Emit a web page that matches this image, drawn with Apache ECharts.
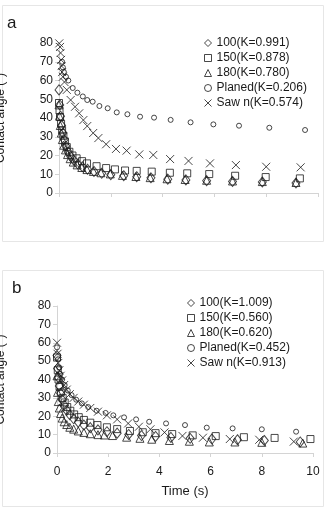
<!DOCTYPE html>
<html>
<head>
<meta charset="utf-8">
<script src="https://cdn.jsdelivr.net/npm/echarts@6/dist/echarts.min.js"></script>
<style>
  html, body { margin: 0; padding: 0; background: #fff; }
  #chart { width: 328px; height: 513px; }
</style>
</head>
<body>
<div id="chart"></div>
<script>
// panel a
const aNames = ["100(K=0.991)", "150(K=0.878)", "180(K=0.780)", "Planed(K=0.206)", "Saw n(K=0.574)"];
const aT100 = [0, .03, .06, .1, .15, .2, .27, .35, .45, .57, .72, .9, 1.1, 1.35, 1.65, 2.0, 2.5, 3.0, 3.55, 4.2, 4.9, 5.7, 6.7, 7.85, 9.15];
const aV100 = [55, 47, 41, 36, 32, 28.5, 25, 22, 19.5, 17.5, 15.5, 14, 12.7, 11.5, 10.5, 9.8, 9.2, 8.7, 8.1, 7.4, 7.0, 6.6, 6.2, 5.9, 5.3];
const aT150 = [0, .02, .04, .08, .12, .17, .23, .3, .4, .52, .68, .89, 1.08, 1.45, 1.82, 2.16, 2.55, 3.0, 3.58, 4.28, 4.95, 5.8, 6.8, 7.98, 9.3];
const aV150 = [48, 44, 40.5, 37, 33.5, 30.5, 27.5, 24.5, 22, 20, 18.5, 17, 15.8, 14.3, 13.3, 12.6, 12, 11.8, 11.4, 10.8, 10.5, 10.1, 9.2, 8.5, 7.8];
const aT180 = [0, .02, .05, .09, .13, .18, .25, .33, .43, .55, .7, .88, 1.08, 1.33, 1.62, 1.98, 2.45, 2.97, 3.52, 4.17, 4.87, 5.7, 6.7, 7.85, 9.15];
const aV180 = [47, 41, 36, 32, 28.5, 25.5, 23, 20.5, 18.3, 16.5, 15, 13.6, 12.5, 11.5, 10.8, 10.2, 9.4, 8.8, 8.2, 7.6, 7.2, 6.8, 6.4, 6.1, 5.6];
const aTPl = [.12, .15, .19, .27, .36, .53, .71, .92, 1.09, 1.3, 1.56, 1.88, 2.23, 2.64, 3.13, 3.67, 4.31, 5.08, 5.96, 6.95, 8.12, 9.5];
const aVPl = [70, 67, 64.5, 62, 60, 56, 53.5, 51.5, 49.6, 48.7, 46.4, 45.2, 43.0, 42.0, 40.7, 40.2, 39, 37.7, 36.6, 35.9, 34.8, 33.6];
const aTSw = [.01, .04, .06, .08, .1, .12, .15, .21, .3, .45, .62, .78, .94, 1.09, 1.32, 1.52, 1.82, 2.2, 2.61, 3.1, 3.64, 4.29, 5.0, 5.83, 6.83, 8.0, 9.33];
const aVSw = [79.8, 77.9, 74.7, 71, 67.7, 64.5, 62, 59.2, 55, 49.6, 46, 42.5, 38.9, 35.7, 32, 29.3, 26, 23.5, 22.6, 20.6, 20.3, 18.1, 17.1, 15.8, 14.9, 14, 13.7];

// panel b
const bNames = ["100(K=1.009)", "150(K=0.560)", "180(K=0.620)", "Planed(K=0.452)", "Saw n(K=0.913)"];
const bT100 = [0, .02, .05, .09, .14, .2, .28, .38, .5, .65, .83, 1.05, 1.3, 1.6, 1.95, 2.35, 2.8, 3.3, 3.85, 4.45, 5.2, 6.05, 7.05, 8.1, 9.5];
const bV100 = [53, 46, 41, 36.5, 32.5, 29, 26, 23.2, 20.8, 18.6, 16.8, 15.2, 13.8, 12.6, 11.6, 10.8, 10.1, 9.5, 9.0, 8.5, 8.0, 7.6, 7.2, 6.8, 6.0];
const bT150 = [0, .03, .06, .1, .15, .22, .3, .4, .52, .67, .85, 1.05, 1.3, 1.58, 1.95, 2.35, 2.85, 3.35, 3.85, 4.5, 5.3, 6.2, 7.3, 8.5, 9.9];
const bV150 = [52, 45, 40, 36, 33, 30, 27.5, 25, 23, 21, 19.5, 18, 16.5, 15.2, 14, 13, 12, 11.3, 10.8, 10.3, 9.6, 9.2, 8.6, 8.2, 7.6];
const bT180 = [0, .02, .05, .09, .14, .2, .28, .38, .5, .65, .83, 1.05, 1.3, 1.6, 1.85, 2.17, 2.72, 3.24, 3.7, 4.39, 5.17, 5.95, 6.95, 8.0, 9.6];
const bV180 = [42, 33, 28, 24.5, 21.5, 19, 17, 15.5, 14, 13, 12, 11.2, 10.5, 10, 9.8, 9.5, 8.6, 8.0, 7.5, 6.8, 6.4, 6.0, 6.0, 5.8, 5.4];
const bTPl = [0, .04, .08, .13, .2, .3, .42, .57, .75, .97, 1.22, 1.55, 1.9, 2.2, 2.62, 3.09, 3.6, 4.26, 5.0, 5.85, 6.86, 8.0, 9.34];
const bVPl = [57.5, 51, 46.5, 43, 40, 37, 34, 31.5, 29, 27, 25, 23, 21.8, 20.5, 19.4, 18.3, 17.0, 16.1, 15.2, 13.8, 13.4, 12.9, 11.6];
const bTSw = [0, .02, .05, .09, .14, .2, .28, .38, .5, .65, .83, 1.05, 1.3, 1.6, 1.95, 2.35, 2.78, 3.2, 3.65, 4.2, 4.9, 5.7, 6.75, 7.9, 9.25];
const bVSw = [60, 54, 49, 45, 42, 39.5, 37, 34.5, 32, 30, 28, 26.3, 24.5, 22.5, 20.5, 18.3, 16.1, 14.3, 12.9, 11.2, 9.3, 8.3, 7.6, 7.2, 6.2];

const yTicks = [0, 10, 20, 30, 40, 50, 60, 70, 80];
const xTicks = [0, 2, 4, 6, 8, 10];

const zip = (t, v) => t.map((x, i) => [x, v[i]]);
const font = "'Liberation Sans', Arial, sans-serif";
const ink = "#1a1a1a";

// marker per series: diamond, square, triangle, circle, cross
const crossPath = "path://M0,0L10,10M10,0L0,10";
const marks = [
  { symbol: "diamond", size: [8, 10], legendIcon: "diamond" },
  { symbol: "rect", size: 7, legendIcon: "rect" },
  { symbol: "triangle", size: 8, legendIcon: "triangle" },
  { symbol: "circle", size: 5, legendIcon: "circle" },
  { symbol: crossPath, size: 8, legendIcon: crossPath },
];

function mkSeries(names, data, idx) {
  return names.map((n, i) => ({
    name: n,
    type: "scatter",
    xAxisIndex: idx,
    yAxisIndex: idx,
    symbol: marks[i].symbol,
    symbolSize: marks[i].size,
    itemStyle: { color: "rgba(0,0,0,0)", borderColor: ink, borderWidth: 1 },
    emphasis: { disabled: true },
    data: data[i],
  }));
}

// the y title sits half outside the page, as in the source figure
function yAxis(idx, gap) {
  return {
    type: "value", gridIndex: idx, min: 0, max: 80, interval: 10,
    name: "Contact angle (°)", nameLocation: "middle", nameRotate: 90, nameGap: gap,
    nameTextStyle: { fontFamily: font, fontSize: 12, color: ink },
    axisLine: { show: true, lineStyle: { color: "#d4d4d4" } },
    axisTick: { show: true, length: 4, lineStyle: { color: "#d4d4d4" } },
    splitLine: { show: false },
    axisLabel: { fontFamily: font, fontSize: 12, color: ink, margin: 6,
      formatter: v => yTicks.includes(v) ? String(v) : "" },
  };
}

function xAxis(idx, showLabels) {
  return {
    type: "value", gridIndex: idx, min: 0, max: 10, interval: 2,
    name: showLabels ? "Time (s)" : "", nameLocation: "middle", nameGap: 32,
    nameTextStyle: { fontFamily: font, fontSize: 13, color: ink },
    axisLine: { show: true, onZero: false, lineStyle: { color: "#d4d4d4" } },
    axisTick: { show: true, length: 4, lineStyle: { color: "#d4d4d4" } },
    splitLine: { show: false },
    axisLabel: { show: showLabels, fontFamily: font, fontSize: 12, color: ink, margin: 13,
      formatter: v => xTicks.includes(v) ? String(v) : "" },
  };
}

function legend(names, left, top) {
  return {
    data: names.map((n, i) => ({
      name: n,
      icon: marks[i].legendIcon,
      itemStyle: { color: "rgba(0,0,0,0)", borderColor: ink, borderWidth: 1 },
    })),
    orient: "vertical", left: left, top: top, padding: 0,
    itemWidth: 7, itemHeight: 7, itemGap: 3,
    selectedMode: false,
    itemStyle: { color: "rgba(0,0,0,0)", borderColor: ink, borderWidth: 1 },
    textStyle: { fontFamily: font, fontSize: 12, color: ink },
  };
}

const chart = echarts.init(document.getElementById("chart"), null, { renderer: "canvas" });
chart.setOption({
  animation: false,
  backgroundColor: "#fff",
  graphic: [
    { type: "rect", shape: { x: 2.5, y: 5.5, width: 321, height: 236 }, style: { fill: "none", stroke: "#e6e6e6", lineWidth: 1 } },
    { type: "rect", shape: { x: 2.5, y: 270.5, width: 321, height: 236 }, style: { fill: "none", stroke: "#e6e6e6", lineWidth: 1 } },
    { type: "text", left: 7, top: 15, style: { text: "a", font: "17px " + font, fill: ink } },
    { type: "text", left: 12, top: 280, style: { text: "b", font: "17px " + font, fill: ink } },
  ],
  grid: [
    { left: 59, top: 43, width: 259, height: 150, containLabel: false, outerBoundsMode: "none" },
    { left: 57, top: 306, width: 256, height: 147, containLabel: false, outerBoundsMode: "none" },
  ],
  xAxis: [xAxis(0, false), xAxis(1, true)],
  yAxis: [yAxis(0, 52), yAxis(1, 50)],
  legend: [legend(aNames, 204, 37), legend(bNames, 187, 297)],
  series: [
    ...mkSeries(aNames, [zip(aT100, aV100), zip(aT150, aV150), zip(aT180, aV180), zip(aTPl, aVPl), zip(aTSw, aVSw)], 0),
    ...mkSeries(bNames, [zip(bT100, bV100), zip(bT150, bV150), zip(bT180, bV180), zip(bTPl, bVPl), zip(bTSw, bVSw)], 1),
  ],
});
</script>
</body>
</html>
